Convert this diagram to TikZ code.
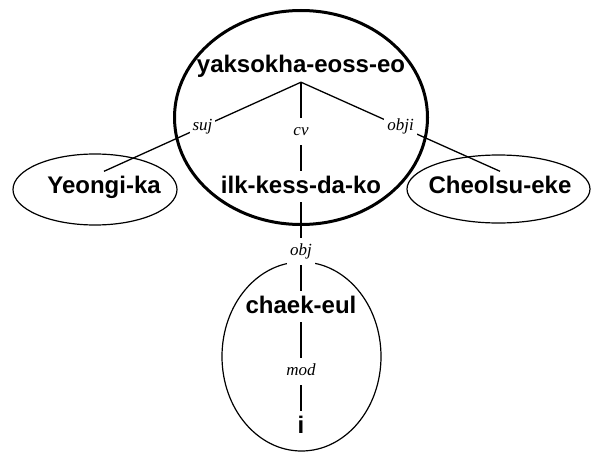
\documentclass[tikz,border=0pt]{standalone}
\usepackage{fontspec}
\setmainfont{Liberation Serif}
\newfontfamily\wordfont{Liberation Sans}
\begin{document}
\begin{tikzpicture}[x=1pt,y=-1pt,
  word/.style={font=\wordfont\bfseries\fontsize{24}{28}\selectfont, text height=17.5pt, text depth=5pt, inner xsep=2pt, inner ysep=4pt, anchor=base},
  rel/.style={font=\itshape\fontsize{17}{20}\selectfont, fill=white, text height=12pt, text depth=4pt, inner xsep=3pt, inner ysep=5.5pt},
  link/.style={line width=1.3pt},
  ring/.style={line width=1.2pt},
  bigring/.style={line width=3pt}]
\useasboundingbox (0,0) rectangle (591,452);
% groupings
\draw[bigring] (301,117.5) ellipse [x radius=126.5pt, y radius=107pt];
\draw[ring] (95,189.5) ellipse [x radius=82pt, y radius=35.5pt];
\draw[ring] (498.5,189) ellipse [x radius=91.5pt, y radius=34pt];
\draw[ring] (301.5,356.5) ellipse [x radius=79.5pt, y radius=94.5pt];
% words
\node[word] (yak) at (301,73) {yaksokha-eoss-eo};
\node[word] (ilk) at (301,193) {ilk-kess-da-ko};
\node[word] (yeo) at (104,193) {Yeongi-ka};
\node[word] (che) at (500,193) {Cheolsu-eke};
\node[word] (cha) at (301,313) {chaek-eul};
\node[word] (ii) at (301,433) {i};
% dependencies
\draw[link] (yak.south) -- node[rel,pos=0.5] {suj} (yeo.north);
\draw[link] (yak.south) -- node[rel,pos=0.55] {cv} (ilk.north);
\draw[link] (yak.south) -- node[rel,pos=0.5] {obji} (che.north);
\draw[link] (ilk.south) -- node[rel,pos=0.55] {obj} (cha.north);
\draw[link] (cha.south) -- node[rel,pos=0.55] {mod} (ii.north);
\end{tikzpicture}
\end{document}
